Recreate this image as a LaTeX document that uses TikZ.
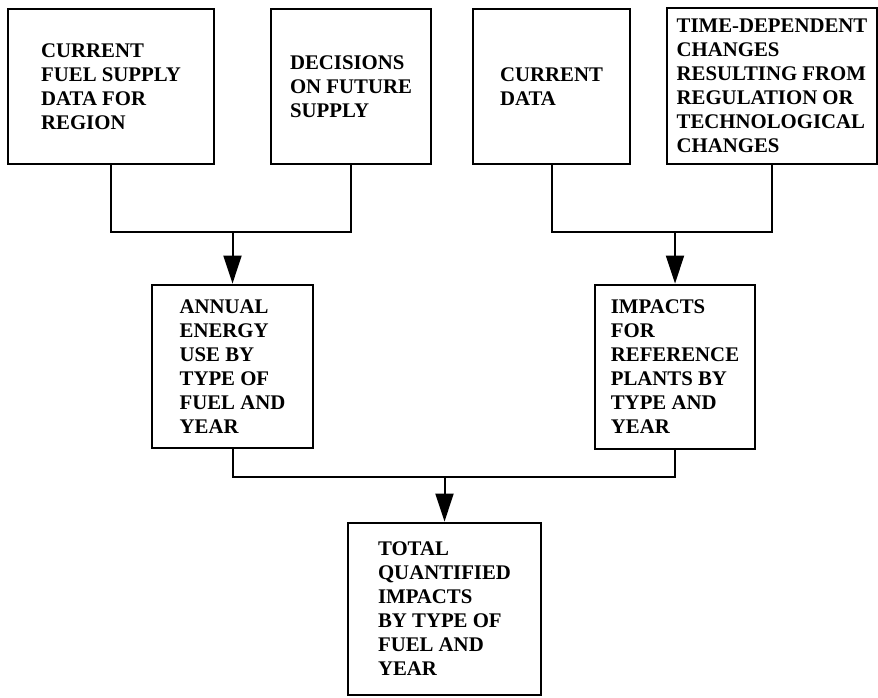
\documentclass[tikz,border=0pt]{standalone}
\usepackage{fontspec}
\setmainfont{Liberation Serif}
\usetikzlibrary{arrows.meta}

\begin{document}
\begin{tikzpicture}[
  x=0.5pt,y=-0.5pt,
  font=\bfseries\fontsize{10.4}{12}\selectfont,
  >={Triangle[length=14pt,width=9pt]},
  box/.style={draw,line width=1.4pt,inner sep=0pt,align=left},
  link/.style={line width=1pt},
  flow/.style={->,line width=1pt}
]
\useasboundingbox (0,0) rectangle (878,697);

% top row: data and decisions feeding the two middle boxes
\node[box,minimum width=103pt,minimum height=77.5pt] (fuel) at (111,86.5) {CURRENT\\FUEL SUPPLY\\DATA FOR\\REGION};
\node[box,minimum width=80pt,minimum height=77.5pt] (decide) at (351,86.5) {DECISIONS\\ON FUTURE\\SUPPLY};
\node[box,minimum width=78.5pt,minimum height=77.5pt] (current) at (551.5,86.5) {CURRENT\\DATA};
\node[box,minimum width=105pt,minimum height=78pt] (timedep) at (772,86) {TIME-DEPENDENT\\CHANGES\\RESULTING FROM\\REGULATION OR\\TECHNOLOGICAL\\CHANGES};

% middle row
\node[box,minimum width=80.5pt,minimum height=81.5pt] (annual) at (232.5,366.5) {ANNUAL\\ENERGY\\USE BY\\TYPE OF\\FUEL AND\\YEAR};
\node[box,minimum width=80pt,minimum height=82pt] (impacts) at (675,367) {IMPACTS\\FOR\\REFERENCE\\PLANTS BY\\TYPE AND\\YEAR};

% bottom: result
\node[box,minimum width=96.5pt,minimum height=86pt] (total) at (444.5,609) {TOTAL\\QUANTIFIED\\IMPACTS\\BY TYPE OF\\FUEL AND\\YEAR};

% junctions
\coordinate (jleft) at (232.5,232);
\coordinate (jright) at (675,232);
\coordinate (jbottom) at (444.5,477);

\draw[link] (fuel.south) |- (jleft) -| (decide.south);
\draw[flow] (jleft) -- (annual.north);
\draw[link] (current.south) |- (jright) -| (timedep.south);
\draw[flow] (jright) -- (impacts.north);
\draw[link] (annual.south) |- (jbottom) -| (impacts.south);
\draw[flow] (jbottom) -- (total.north);
\end{tikzpicture}
\end{document}
